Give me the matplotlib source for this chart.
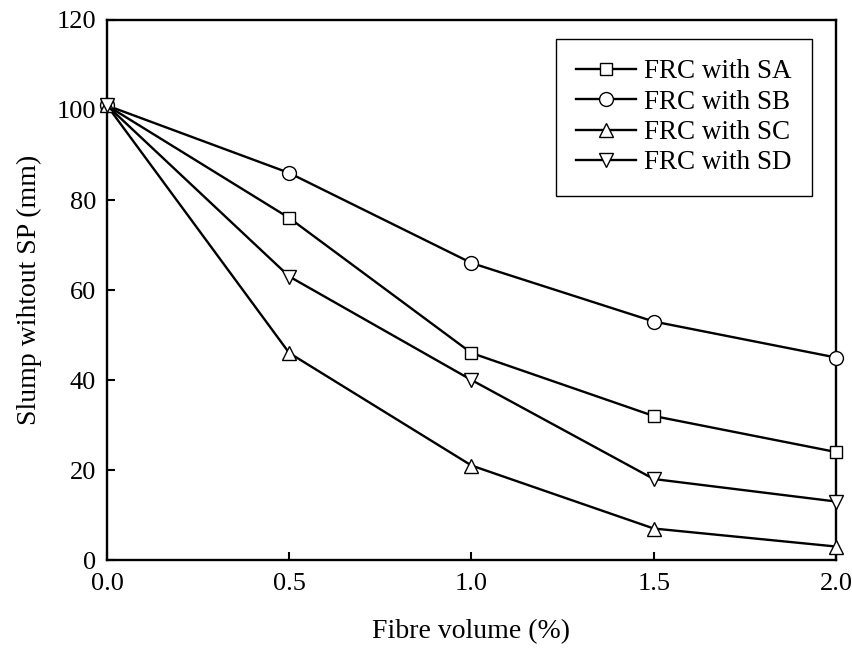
import matplotlib
matplotlib.use('Agg')
import matplotlib.pyplot as plt

plt.rcParams['font.family'] = ['Liberation Serif', 'DejaVu Serif']

fibre = [0.0, 0.5, 1.0, 1.5, 2.0]
sa = [101, 76, 46, 32, 24]
sb = [101, 86, 66, 53, 45]
sc = [101, 46, 21, 7, 3]
sd = [101, 63, 40, 18, 13]
labels = ['FRC with SA', 'FRC with SB', 'FRC with SC', 'FRC with SD']
markers = ['s', 'o', '^', 'v']

fig = plt.figure(figsize=(8.52, 6.49), dpi=100)
ax = fig.add_axes([0.1256, 0.1371, 0.8556, 0.8321])

for y, lab, m in zip([sa, sb, sc, sd], labels, markers):
    ax.plot(fibre, y, color='black', lw=1.7, marker=m, ms=10 if m != 's' else 8.5,
            mfc='white', mec='black', mew=1.0, label=lab, clip_on=False, zorder=3)

ax.set_xlim(0, 2.0)
ax.set_ylim(0, 120)
ax.set_xticks([0.0, 0.5, 1.0, 1.5, 2.0])
ax.set_yticks(range(0, 121, 20))
ax.xaxis.set_major_formatter(matplotlib.ticker.FormatStrFormatter('%.1f'))
ax.tick_params(direction='in', length=6, width=1.5, labelsize=19)
ax.tick_params(axis='x', pad=9)
ax.tick_params(axis='y', pad=8)
for s in ax.spines.values():
    s.set_linewidth(1.7)

ax.set_xlabel('Fibre volume (%)', fontsize=20, labelpad=18)
ax.set_ylabel('Slump wihtout SP (mm)', fontsize=20, labelpad=10)

leg = ax.legend(loc='upper right', bbox_to_anchor=(0.967, 0.965), borderaxespad=0,
                fontsize=19.5, fancybox=False, edgecolor='black', framealpha=1,
                handlelength=2.2, borderpad=0.75, labelspacing=0.2, handletextpad=0.3)
leg.get_frame().set_linewidth(1.0)

fig.savefig('out.png', dpi=100)
